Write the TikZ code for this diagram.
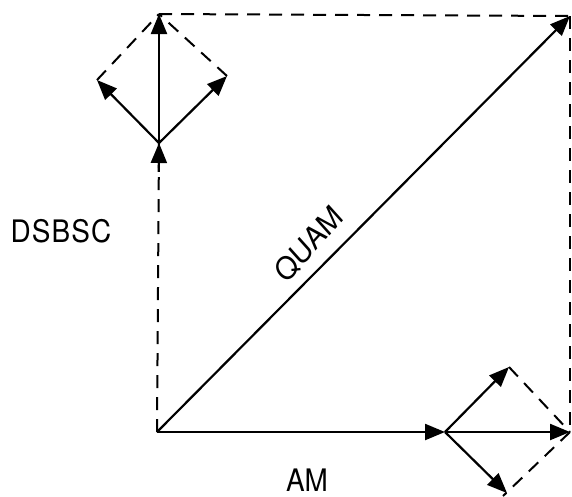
\documentclass[tikz,border=0pt]{standalone}
\usepackage{fontspec}
\setmainfont{TeX Gyre Heros}
\usetikzlibrary{arrows.meta,calc}
\begin{document}
\begin{tikzpicture}[x=1pt,y=-1pt,
  vec/.style={line width=2.2pt,-{Triangle[length=20pt,width=16pt]}},
  dsh/.style={line width=2pt,dash pattern=on 13pt off 9pt},
  lbl/.style={font=\fontsize{31}{33}\selectfont,inner sep=0pt,xscale=0.9}]
\useasboundingbox (0,0) rectangle (572,496);
% points
\coordinate (O) at (157,432);
\coordinate (C) at (159,143);
\coordinate (T) at (159,14);
\coordinate (L) at (97,80);
\coordinate (R) at (227,76);
\coordinate (Q) at (570,16);
\coordinate (A) at (570,432);
\coordinate (K) at (445,432);
\coordinate (U) at (509,367);
\coordinate (D) at (507,493);
\coordinate (Dend) at (503,496);
% dashed construction lines
\draw[dsh] (O) -- (C);
\draw[dsh] (T) -- (Q);
\draw[dsh] (Q) -- (A);
\draw[dsh] (L) -- (T);
\draw[dsh] (R) -- (T);
\draw[dsh] (U) -- (A);
\draw[dsh] (A) -- (Dend);
% DSBSC phasors
\draw[vec] ($(O)!0.9!(C)$) -- (C);
\draw[vec] (C) -- (T);
\draw[vec] (C) -- (L);
\draw[vec] (C) -- (R);
% QUAM
\draw[vec] (O) -- (Q);
% AM phasors
\draw[vec] (O) -- (K);
\draw[vec] (K) -- (A);
\draw[vec] (K) -- (U);
\draw[vec] (K) -- (D);
% labels
\node[lbl,anchor=base] (dsbsc) at (61,242) {\addfontfeature{LetterSpace=4}DSBSC};
\node[lbl,anchor=base] (am) at (307,491) {AM};
\node[lbl,rotate=45] (quam) at (309,244) {QUAM};
\end{tikzpicture}
\end{document}
